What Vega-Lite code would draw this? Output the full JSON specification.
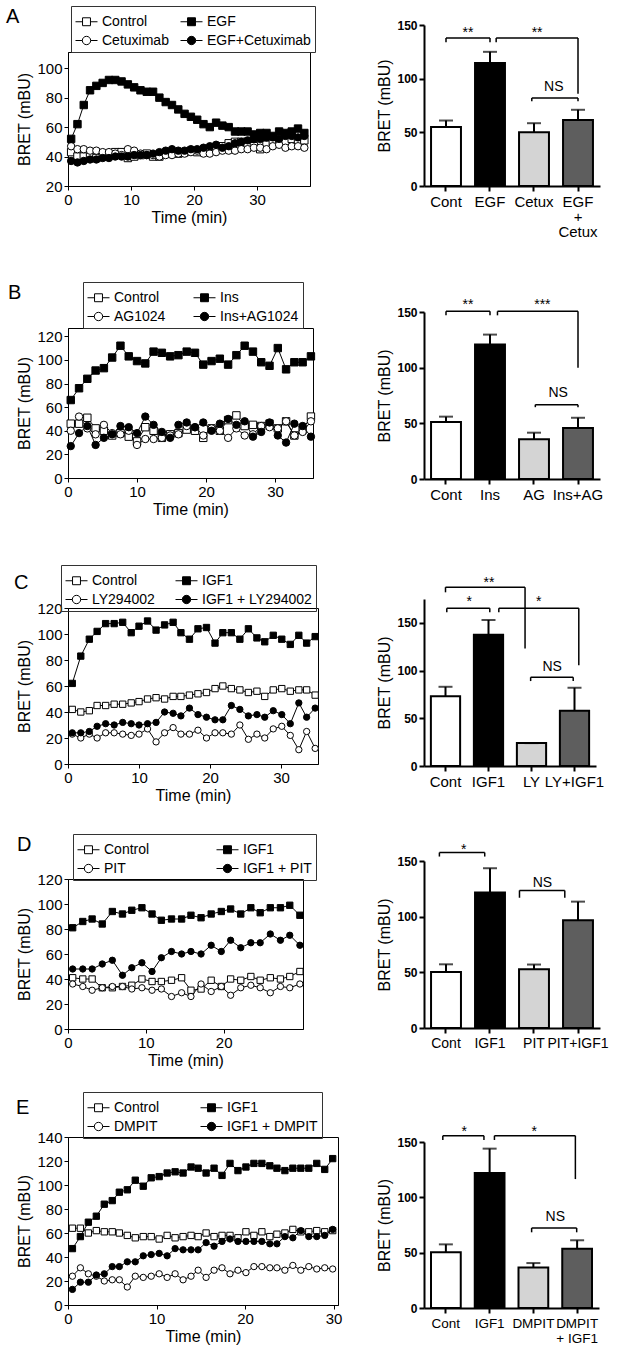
{
"$schema":"https://vega.github.io/schema/vega-lite/v6.json",
"background":"white",
"padding":5,
"datasets":{
"lA":[
{"s":"Control","t":0.5,"v":43},{"s":"Control","t":1.5,"v":40},{"s":"Control","t":2.5,"v":40},{"s":"Control","t":3.5,"v":41},{"s":"Control","t":4.5,"v":39},{"s":"Control","t":5.5,"v":40},{"s":"Control","t":6.5,"v":41},{"s":"Control","t":7.5,"v":43},{"s":"Control","t":8.5,"v":43},{"s":"Control","t":9.5,"v":39},{"s":"Control","t":10.5,"v":40},{"s":"Control","t":11.5,"v":41},{"s":"Control","t":12.5,"v":42},{"s":"Control","t":13.5,"v":40},{"s":"Control","t":14.5,"v":40},{"s":"Control","t":15.5,"v":42},{"s":"Control","t":16.5,"v":43},{"s":"Control","t":17.5,"v":42},{"s":"Control","t":18.5,"v":43},{"s":"Control","t":19.5,"v":44},{"s":"Control","t":20.5,"v":43},{"s":"Control","t":21.5,"v":44},{"s":"Control","t":22.5,"v":44},{"s":"Control","t":23.5,"v":46},{"s":"Control","t":24.5,"v":47},{"s":"Control","t":25.5,"v":49},{"s":"Control","t":26.5,"v":50},{"s":"Control","t":27.5,"v":50},{"s":"Control","t":28.5,"v":48},{"s":"Control","t":29.5,"v":47},{"s":"Control","t":30.5,"v":45},{"s":"Control","t":31.5,"v":48},{"s":"Control","t":32.5,"v":50},{"s":"Control","t":33.5,"v":49},{"s":"Control","t":34.5,"v":50},{"s":"Control","t":35.5,"v":52},{"s":"Control","t":36.5,"v":50},{"s":"Control","t":37.5,"v":51},
{"s":"Cetuximab","t":0.5,"v":47},{"s":"Cetuximab","t":1.5,"v":45},{"s":"Cetuximab","t":2.5,"v":45},{"s":"Cetuximab","t":3.5,"v":44},{"s":"Cetuximab","t":4.5,"v":44},{"s":"Cetuximab","t":5.5,"v":43},{"s":"Cetuximab","t":6.5,"v":43},{"s":"Cetuximab","t":7.5,"v":42},{"s":"Cetuximab","t":8.5,"v":41},{"s":"Cetuximab","t":9.5,"v":45},{"s":"Cetuximab","t":10.5,"v":44},{"s":"Cetuximab","t":11.5,"v":42},{"s":"Cetuximab","t":12.5,"v":41},{"s":"Cetuximab","t":13.5,"v":41},{"s":"Cetuximab","t":14.5,"v":40},{"s":"Cetuximab","t":15.5,"v":41},{"s":"Cetuximab","t":16.5,"v":41},{"s":"Cetuximab","t":17.5,"v":42},{"s":"Cetuximab","t":18.5,"v":42},{"s":"Cetuximab","t":19.5,"v":43},{"s":"Cetuximab","t":20.5,"v":44},{"s":"Cetuximab","t":21.5,"v":42},{"s":"Cetuximab","t":22.5,"v":42},{"s":"Cetuximab","t":23.5,"v":43},{"s":"Cetuximab","t":24.5,"v":44},{"s":"Cetuximab","t":25.5,"v":44},{"s":"Cetuximab","t":26.5,"v":44},{"s":"Cetuximab","t":27.5,"v":45},{"s":"Cetuximab","t":28.5,"v":45},{"s":"Cetuximab","t":29.5,"v":46},{"s":"Cetuximab","t":30.5,"v":46},{"s":"Cetuximab","t":31.5,"v":45},{"s":"Cetuximab","t":32.5,"v":47},{"s":"Cetuximab","t":33.5,"v":48},{"s":"Cetuximab","t":34.5,"v":46},{"s":"Cetuximab","t":35.5,"v":47},{"s":"Cetuximab","t":36.5,"v":47},{"s":"Cetuximab","t":37.5,"v":46},
{"s":"EGF","t":0.5,"v":52},{"s":"EGF","t":1.5,"v":62},{"s":"EGF","t":2.5,"v":75},{"s":"EGF","t":3.5,"v":85},{"s":"EGF","t":4.5,"v":88},{"s":"EGF","t":5.5,"v":90},{"s":"EGF","t":6.5,"v":92},{"s":"EGF","t":7.5,"v":92},{"s":"EGF","t":8.5,"v":91},{"s":"EGF","t":9.5,"v":89},{"s":"EGF","t":10.5,"v":87},{"s":"EGF","t":11.5,"v":85},{"s":"EGF","t":12.5,"v":84},{"s":"EGF","t":13.5,"v":84},{"s":"EGF","t":14.5,"v":80},{"s":"EGF","t":15.5,"v":77},{"s":"EGF","t":16.5,"v":75},{"s":"EGF","t":17.5,"v":72},{"s":"EGF","t":18.5,"v":69},{"s":"EGF","t":19.5,"v":67},{"s":"EGF","t":20.5,"v":65},{"s":"EGF","t":21.5,"v":62},{"s":"EGF","t":22.5,"v":60},{"s":"EGF","t":23.5,"v":63},{"s":"EGF","t":24.5,"v":61},{"s":"EGF","t":25.5,"v":60},{"s":"EGF","t":26.5,"v":57},{"s":"EGF","t":27.5,"v":57},{"s":"EGF","t":28.5,"v":57},{"s":"EGF","t":29.5,"v":55},{"s":"EGF","t":30.5,"v":56},{"s":"EGF","t":31.5,"v":56},{"s":"EGF","t":32.5,"v":54},{"s":"EGF","t":33.5,"v":57},{"s":"EGF","t":34.5,"v":56},{"s":"EGF","t":35.5,"v":57},{"s":"EGF","t":36.5,"v":59},{"s":"EGF","t":37.5,"v":56},
{"s":"EGF+Cetuximab","t":0.5,"v":37},{"s":"EGF+Cetuximab","t":1.5,"v":36},{"s":"EGF+Cetuximab","t":2.5,"v":37},{"s":"EGF+Cetuximab","t":3.5,"v":38},{"s":"EGF+Cetuximab","t":4.5,"v":38},{"s":"EGF+Cetuximab","t":5.5,"v":39},{"s":"EGF+Cetuximab","t":6.5,"v":39},{"s":"EGF+Cetuximab","t":7.5,"v":40},{"s":"EGF+Cetuximab","t":8.5,"v":40},{"s":"EGF+Cetuximab","t":9.5,"v":40},{"s":"EGF+Cetuximab","t":10.5,"v":41},{"s":"EGF+Cetuximab","t":11.5,"v":41},{"s":"EGF+Cetuximab","t":12.5,"v":41},{"s":"EGF+Cetuximab","t":13.5,"v":42},{"s":"EGF+Cetuximab","t":14.5,"v":43},{"s":"EGF+Cetuximab","t":15.5,"v":44},{"s":"EGF+Cetuximab","t":16.5,"v":45},{"s":"EGF+Cetuximab","t":17.5,"v":44},{"s":"EGF+Cetuximab","t":18.5,"v":44},{"s":"EGF+Cetuximab","t":19.5,"v":45},{"s":"EGF+Cetuximab","t":20.5,"v":45},{"s":"EGF+Cetuximab","t":21.5,"v":46},{"s":"EGF+Cetuximab","t":22.5,"v":47},{"s":"EGF+Cetuximab","t":23.5,"v":48},{"s":"EGF+Cetuximab","t":24.5,"v":46},{"s":"EGF+Cetuximab","t":25.5,"v":47},{"s":"EGF+Cetuximab","t":26.5,"v":49},{"s":"EGF+Cetuximab","t":27.5,"v":50},{"s":"EGF+Cetuximab","t":28.5,"v":51},{"s":"EGF+Cetuximab","t":29.5,"v":52},{"s":"EGF+Cetuximab","t":30.5,"v":52},{"s":"EGF+Cetuximab","t":31.5,"v":53},{"s":"EGF+Cetuximab","t":32.5,"v":53},{"s":"EGF+Cetuximab","t":33.5,"v":52},{"s":"EGF+Cetuximab","t":34.5,"v":54},{"s":"EGF+Cetuximab","t":35.5,"v":54},{"s":"EGF+Cetuximab","t":36.5,"v":53},{"s":"EGF+Cetuximab","t":37.5,"v":54}
],
"lB":[
{"s":"Control","t":0.4,"v":46},{"s":"Control","t":1.6,"v":46},{"s":"Control","t":2.8,"v":51},{"s":"Control","t":4,"v":42},{"s":"Control","t":5.2,"v":40},{"s":"Control","t":6.4,"v":36},{"s":"Control","t":7.6,"v":38},{"s":"Control","t":8.8,"v":35},{"s":"Control","t":10,"v":31},{"s":"Control","t":11.2,"v":43},{"s":"Control","t":12.4,"v":40},{"s":"Control","t":13.6,"v":34},{"s":"Control","t":14.8,"v":37},{"s":"Control","t":16,"v":38},{"s":"Control","t":17.2,"v":41},{"s":"Control","t":18.4,"v":40},{"s":"Control","t":19.6,"v":34},{"s":"Control","t":20.8,"v":42},{"s":"Control","t":22,"v":40},{"s":"Control","t":23.2,"v":49},{"s":"Control","t":24.4,"v":53},{"s":"Control","t":25.6,"v":44},{"s":"Control","t":26.8,"v":45},{"s":"Control","t":28,"v":44},{"s":"Control","t":29.2,"v":46},{"s":"Control","t":30.4,"v":42},{"s":"Control","t":31.6,"v":48},{"s":"Control","t":32.8,"v":36},{"s":"Control","t":34,"v":41},{"s":"Control","t":35.2,"v":52},
{"s":"AG1024","t":0.4,"v":40},{"s":"AG1024","t":1.6,"v":52},{"s":"AG1024","t":2.8,"v":42},{"s":"AG1024","t":4,"v":37},{"s":"AG1024","t":5.2,"v":45},{"s":"AG1024","t":6.4,"v":38},{"s":"AG1024","t":7.6,"v":37},{"s":"AG1024","t":8.8,"v":40},{"s":"AG1024","t":10,"v":28},{"s":"AG1024","t":11.2,"v":33},{"s":"AG1024","t":12.4,"v":33},{"s":"AG1024","t":13.6,"v":34},{"s":"AG1024","t":14.8,"v":36},{"s":"AG1024","t":16,"v":37},{"s":"AG1024","t":17.2,"v":44},{"s":"AG1024","t":18.4,"v":43},{"s":"AG1024","t":19.6,"v":36},{"s":"AG1024","t":20.8,"v":42},{"s":"AG1024","t":22,"v":40},{"s":"AG1024","t":23.2,"v":34},{"s":"AG1024","t":24.4,"v":42},{"s":"AG1024","t":25.6,"v":36},{"s":"AG1024","t":26.8,"v":37},{"s":"AG1024","t":28,"v":44},{"s":"AG1024","t":29.2,"v":43},{"s":"AG1024","t":30.4,"v":42},{"s":"AG1024","t":31.6,"v":48},{"s":"AG1024","t":32.8,"v":36},{"s":"AG1024","t":34,"v":39},{"s":"AG1024","t":35.2,"v":48},
{"s":"Ins","t":0.4,"v":66},{"s":"Ins","t":1.6,"v":76},{"s":"Ins","t":2.8,"v":84},{"s":"Ins","t":4,"v":91},{"s":"Ins","t":5.2,"v":93},{"s":"Ins","t":6.4,"v":102},{"s":"Ins","t":7.6,"v":112},{"s":"Ins","t":8.8,"v":103},{"s":"Ins","t":10,"v":99},{"s":"Ins","t":11.2,"v":97},{"s":"Ins","t":12.4,"v":107},{"s":"Ins","t":13.6,"v":106},{"s":"Ins","t":14.8,"v":103},{"s":"Ins","t":16,"v":104},{"s":"Ins","t":17.2,"v":107},{"s":"Ins","t":18.4,"v":106},{"s":"Ins","t":19.6,"v":96},{"s":"Ins","t":20.8,"v":99},{"s":"Ins","t":22,"v":101},{"s":"Ins","t":23.2,"v":96},{"s":"Ins","t":24.4,"v":104},{"s":"Ins","t":25.6,"v":112},{"s":"Ins","t":26.8,"v":107},{"s":"Ins","t":28,"v":98},{"s":"Ins","t":29.2,"v":95},{"s":"Ins","t":30.4,"v":110},{"s":"Ins","t":31.6,"v":92},{"s":"Ins","t":32.8,"v":98},{"s":"Ins","t":34,"v":98},{"s":"Ins","t":35.2,"v":103},
{"s":"Ins+AG1024","t":0.4,"v":27},{"s":"Ins+AG1024","t":1.6,"v":38},{"s":"Ins+AG1024","t":2.8,"v":44},{"s":"Ins+AG1024","t":4,"v":28},{"s":"Ins+AG1024","t":5.2,"v":34},{"s":"Ins+AG1024","t":6.4,"v":37},{"s":"Ins+AG1024","t":7.6,"v":44},{"s":"Ins+AG1024","t":8.8,"v":43},{"s":"Ins+AG1024","t":10,"v":38},{"s":"Ins+AG1024","t":11.2,"v":52},{"s":"Ins+AG1024","t":12.4,"v":45},{"s":"Ins+AG1024","t":13.6,"v":39},{"s":"Ins+AG1024","t":14.8,"v":34},{"s":"Ins+AG1024","t":16,"v":45},{"s":"Ins+AG1024","t":17.2,"v":47},{"s":"Ins+AG1024","t":18.4,"v":43},{"s":"Ins+AG1024","t":19.6,"v":47},{"s":"Ins+AG1024","t":20.8,"v":40},{"s":"Ins+AG1024","t":22,"v":46},{"s":"Ins+AG1024","t":23.2,"v":50},{"s":"Ins+AG1024","t":24.4,"v":45},{"s":"Ins+AG1024","t":25.6,"v":48},{"s":"Ins+AG1024","t":26.8,"v":35},{"s":"Ins+AG1024","t":28,"v":39},{"s":"Ins+AG1024","t":29.2,"v":47},{"s":"Ins+AG1024","t":30.4,"v":36},{"s":"Ins+AG1024","t":31.6,"v":30},{"s":"Ins+AG1024","t":32.8,"v":46},{"s":"Ins+AG1024","t":34,"v":44},{"s":"Ins+AG1024","t":35.2,"v":35}
],
"lC":[
{"s":"Control","t":0.6,"v":42},{"s":"Control","t":1.8,"v":40},{"s":"Control","t":3,"v":41},{"s":"Control","t":4.1,"v":45},{"s":"Control","t":5.3,"v":45},{"s":"Control","t":6.5,"v":46},{"s":"Control","t":7.7,"v":46},{"s":"Control","t":8.9,"v":47},{"s":"Control","t":10,"v":48},{"s":"Control","t":11.2,"v":50},{"s":"Control","t":12.4,"v":51},{"s":"Control","t":13.6,"v":50},{"s":"Control","t":14.8,"v":52},{"s":"Control","t":15.9,"v":52},{"s":"Control","t":17.1,"v":53},{"s":"Control","t":18.3,"v":54},{"s":"Control","t":19.5,"v":55},{"s":"Control","t":20.7,"v":58},{"s":"Control","t":21.8,"v":60},{"s":"Control","t":23,"v":58},{"s":"Control","t":24.2,"v":57},{"s":"Control","t":25.4,"v":55},{"s":"Control","t":26.6,"v":56},{"s":"Control","t":27.7,"v":52},{"s":"Control","t":28.9,"v":57},{"s":"Control","t":30.1,"v":58},{"s":"Control","t":31.3,"v":56},{"s":"Control","t":32.5,"v":57},{"s":"Control","t":33.6,"v":57},{"s":"Control","t":34.8,"v":53},
{"s":"LY294002","t":0.6,"v":23},{"s":"LY294002","t":1.8,"v":20},{"s":"LY294002","t":3,"v":23},{"s":"LY294002","t":4.1,"v":20},{"s":"LY294002","t":5.3,"v":24},{"s":"LY294002","t":6.5,"v":24},{"s":"LY294002","t":7.7,"v":23},{"s":"LY294002","t":8.9,"v":22},{"s":"LY294002","t":10,"v":23},{"s":"LY294002","t":11.2,"v":27},{"s":"LY294002","t":12.4,"v":17},{"s":"LY294002","t":13.6,"v":24},{"s":"LY294002","t":14.8,"v":28},{"s":"LY294002","t":15.9,"v":23},{"s":"LY294002","t":17.1,"v":23},{"s":"LY294002","t":18.3,"v":26},{"s":"LY294002","t":19.5,"v":20},{"s":"LY294002","t":20.7,"v":24},{"s":"LY294002","t":21.8,"v":24},{"s":"LY294002","t":23,"v":23},{"s":"LY294002","t":24.2,"v":30},{"s":"LY294002","t":25.4,"v":19},{"s":"LY294002","t":26.6,"v":23},{"s":"LY294002","t":27.7,"v":20},{"s":"LY294002","t":28.9,"v":27},{"s":"LY294002","t":30.1,"v":29},{"s":"LY294002","t":31.3,"v":22},{"s":"LY294002","t":32.5,"v":11},{"s":"LY294002","t":33.6,"v":25},{"s":"LY294002","t":34.8,"v":12},
{"s":"IGF1","t":0.6,"v":62},{"s":"IGF1","t":1.8,"v":83},{"s":"IGF1","t":3,"v":96},{"s":"IGF1","t":4.1,"v":102},{"s":"IGF1","t":5.3,"v":108},{"s":"IGF1","t":6.5,"v":108},{"s":"IGF1","t":7.7,"v":109},{"s":"IGF1","t":8.9,"v":101},{"s":"IGF1","t":10,"v":106},{"s":"IGF1","t":11.2,"v":110},{"s":"IGF1","t":12.4,"v":103},{"s":"IGF1","t":13.6,"v":107},{"s":"IGF1","t":14.8,"v":109},{"s":"IGF1","t":15.9,"v":101},{"s":"IGF1","t":17.1,"v":96},{"s":"IGF1","t":18.3,"v":104},{"s":"IGF1","t":19.5,"v":105},{"s":"IGF1","t":20.7,"v":93},{"s":"IGF1","t":21.8,"v":101},{"s":"IGF1","t":23,"v":101},{"s":"IGF1","t":24.2,"v":96},{"s":"IGF1","t":25.4,"v":104},{"s":"IGF1","t":26.6,"v":97},{"s":"IGF1","t":27.7,"v":94},{"s":"IGF1","t":28.9,"v":99},{"s":"IGF1","t":30.1,"v":96},{"s":"IGF1","t":31.3,"v":92},{"s":"IGF1","t":32.5,"v":99},{"s":"IGF1","t":33.6,"v":93},{"s":"IGF1","t":34.8,"v":98},
{"s":"IGF1 + LY294002","t":0.6,"v":24},{"s":"IGF1 + LY294002","t":1.8,"v":24},{"s":"IGF1 + LY294002","t":3,"v":25},{"s":"IGF1 + LY294002","t":4.1,"v":29},{"s":"IGF1 + LY294002","t":5.3,"v":31},{"s":"IGF1 + LY294002","t":6.5,"v":30},{"s":"IGF1 + LY294002","t":7.7,"v":32},{"s":"IGF1 + LY294002","t":8.9,"v":31},{"s":"IGF1 + LY294002","t":10,"v":30},{"s":"IGF1 + LY294002","t":11.2,"v":31},{"s":"IGF1 + LY294002","t":12.4,"v":32},{"s":"IGF1 + LY294002","t":13.6,"v":40},{"s":"IGF1 + LY294002","t":14.8,"v":39},{"s":"IGF1 + LY294002","t":15.9,"v":37},{"s":"IGF1 + LY294002","t":17.1,"v":43},{"s":"IGF1 + LY294002","t":18.3,"v":38},{"s":"IGF1 + LY294002","t":19.5,"v":36},{"s":"IGF1 + LY294002","t":20.7,"v":34},{"s":"IGF1 + LY294002","t":21.8,"v":34},{"s":"IGF1 + LY294002","t":23,"v":45},{"s":"IGF1 + LY294002","t":24.2,"v":42},{"s":"IGF1 + LY294002","t":25.4,"v":37},{"s":"IGF1 + LY294002","t":26.6,"v":38},{"s":"IGF1 + LY294002","t":27.7,"v":36},{"s":"IGF1 + LY294002","t":28.9,"v":41},{"s":"IGF1 + LY294002","t":30.1,"v":38},{"s":"IGF1 + LY294002","t":31.3,"v":31},{"s":"IGF1 + LY294002","t":32.5,"v":47},{"s":"IGF1 + LY294002","t":33.6,"v":36},{"s":"IGF1 + LY294002","t":34.8,"v":43}
],
"lD":[
{"s":"Control","t":0.6,"v":41},{"s":"Control","t":1.9,"v":40},{"s":"Control","t":3.1,"v":40},{"s":"Control","t":4.4,"v":33},{"s":"Control","t":5.7,"v":33},{"s":"Control","t":7,"v":34},{"s":"Control","t":8.2,"v":35},{"s":"Control","t":9.5,"v":40},{"s":"Control","t":10.8,"v":38},{"s":"Control","t":12,"v":38},{"s":"Control","t":13.3,"v":39},{"s":"Control","t":14.6,"v":41},{"s":"Control","t":15.8,"v":31},{"s":"Control","t":17.1,"v":32},{"s":"Control","t":18.4,"v":39},{"s":"Control","t":19.7,"v":34},{"s":"Control","t":20.9,"v":40},{"s":"Control","t":22.2,"v":39},{"s":"Control","t":23.5,"v":42},{"s":"Control","t":24.7,"v":39},{"s":"Control","t":26,"v":41},{"s":"Control","t":27.3,"v":40},{"s":"Control","t":28.5,"v":42},{"s":"Control","t":29.8,"v":46},
{"s":"PIT","t":0.6,"v":36},{"s":"PIT","t":1.9,"v":34},{"s":"PIT","t":3.1,"v":31},{"s":"PIT","t":4.4,"v":33},{"s":"PIT","t":5.7,"v":34},{"s":"PIT","t":7,"v":34},{"s":"PIT","t":8.2,"v":32},{"s":"PIT","t":9.5,"v":33},{"s":"PIT","t":10.8,"v":31},{"s":"PIT","t":12,"v":32},{"s":"PIT","t":13.3,"v":26},{"s":"PIT","t":14.6,"v":29},{"s":"PIT","t":15.8,"v":26},{"s":"PIT","t":17.1,"v":36},{"s":"PIT","t":18.4,"v":30},{"s":"PIT","t":19.7,"v":34},{"s":"PIT","t":20.9,"v":27},{"s":"PIT","t":22.2,"v":33},{"s":"PIT","t":23.5,"v":35},{"s":"PIT","t":24.7,"v":33},{"s":"PIT","t":26,"v":29},{"s":"PIT","t":27.3,"v":34},{"s":"PIT","t":28.5,"v":33},{"s":"PIT","t":29.8,"v":36},
{"s":"IGF1","t":0.6,"v":81},{"s":"IGF1","t":1.9,"v":86},{"s":"IGF1","t":3.1,"v":88},{"s":"IGF1","t":4.4,"v":84},{"s":"IGF1","t":5.7,"v":94},{"s":"IGF1","t":7,"v":92},{"s":"IGF1","t":8.2,"v":95},{"s":"IGF1","t":9.5,"v":97},{"s":"IGF1","t":10.8,"v":92},{"s":"IGF1","t":12,"v":87},{"s":"IGF1","t":13.3,"v":88},{"s":"IGF1","t":14.6,"v":88},{"s":"IGF1","t":15.8,"v":91},{"s":"IGF1","t":17.1,"v":89},{"s":"IGF1","t":18.4,"v":92},{"s":"IGF1","t":19.7,"v":94},{"s":"IGF1","t":20.9,"v":96},{"s":"IGF1","t":22.2,"v":92},{"s":"IGF1","t":23.5,"v":97},{"s":"IGF1","t":24.7,"v":93},{"s":"IGF1","t":26,"v":97},{"s":"IGF1","t":27.3,"v":97},{"s":"IGF1","t":28.5,"v":99},{"s":"IGF1","t":29.8,"v":91},
{"s":"IGF1 + PIT","t":0.6,"v":48},{"s":"IGF1 + PIT","t":1.9,"v":48},{"s":"IGF1 + PIT","t":3.1,"v":48},{"s":"IGF1 + PIT","t":4.4,"v":52},{"s":"IGF1 + PIT","t":5.7,"v":55},{"s":"IGF1 + PIT","t":7,"v":43},{"s":"IGF1 + PIT","t":8.2,"v":49},{"s":"IGF1 + PIT","t":9.5,"v":53},{"s":"IGF1 + PIT","t":10.8,"v":46},{"s":"IGF1 + PIT","t":12,"v":57},{"s":"IGF1 + PIT","t":13.3,"v":62},{"s":"IGF1 + PIT","t":14.6,"v":60},{"s":"IGF1 + PIT","t":15.8,"v":62},{"s":"IGF1 + PIT","t":17.1,"v":60},{"s":"IGF1 + PIT","t":18.4,"v":67},{"s":"IGF1 + PIT","t":19.7,"v":62},{"s":"IGF1 + PIT","t":20.9,"v":71},{"s":"IGF1 + PIT","t":22.2,"v":65},{"s":"IGF1 + PIT","t":23.5,"v":69},{"s":"IGF1 + PIT","t":24.7,"v":69},{"s":"IGF1 + PIT","t":26,"v":76},{"s":"IGF1 + PIT","t":27.3,"v":71},{"s":"IGF1 + PIT","t":28.5,"v":75},{"s":"IGF1 + PIT","t":29.8,"v":67}
],
"lE":[
{"s":"Control","t":0.5,"v":64},{"s":"Control","t":1.4,"v":64},{"s":"Control","t":2.3,"v":60},{"s":"Control","t":3.2,"v":62},{"s":"Control","t":4.1,"v":61},{"s":"Control","t":5,"v":61},{"s":"Control","t":5.8,"v":60},{"s":"Control","t":6.7,"v":58},{"s":"Control","t":7.6,"v":56},{"s":"Control","t":8.5,"v":57},{"s":"Control","t":9.4,"v":57},{"s":"Control","t":10.3,"v":55},{"s":"Control","t":11.2,"v":58},{"s":"Control","t":12.1,"v":56},{"s":"Control","t":13,"v":57},{"s":"Control","t":13.9,"v":58},{"s":"Control","t":14.7,"v":57},{"s":"Control","t":15.6,"v":60},{"s":"Control","t":16.5,"v":57},{"s":"Control","t":17.4,"v":58},{"s":"Control","t":18.3,"v":58},{"s":"Control","t":19.2,"v":56},{"s":"Control","t":20.1,"v":61},{"s":"Control","t":21,"v":58},{"s":"Control","t":21.9,"v":61},{"s":"Control","t":22.8,"v":57},{"s":"Control","t":23.6,"v":59},{"s":"Control","t":24.5,"v":60},{"s":"Control","t":25.4,"v":63},{"s":"Control","t":26.3,"v":61},{"s":"Control","t":27.2,"v":61},{"s":"Control","t":28.1,"v":62},{"s":"Control","t":29,"v":61},{"s":"Control","t":29.9,"v":62},
{"s":"DMPIT","t":0.5,"v":24},{"s":"DMPIT","t":1.4,"v":31},{"s":"DMPIT","t":2.3,"v":26},{"s":"DMPIT","t":3.2,"v":24},{"s":"DMPIT","t":4.1,"v":20},{"s":"DMPIT","t":5,"v":21},{"s":"DMPIT","t":5.8,"v":21},{"s":"DMPIT","t":6.7,"v":15},{"s":"DMPIT","t":7.6,"v":24},{"s":"DMPIT","t":8.5,"v":23},{"s":"DMPIT","t":9.4,"v":24},{"s":"DMPIT","t":10.3,"v":26},{"s":"DMPIT","t":11.2,"v":23},{"s":"DMPIT","t":12.1,"v":26},{"s":"DMPIT","t":13,"v":21},{"s":"DMPIT","t":13.9,"v":24},{"s":"DMPIT","t":14.7,"v":29},{"s":"DMPIT","t":15.6,"v":23},{"s":"DMPIT","t":16.5,"v":29},{"s":"DMPIT","t":17.4,"v":31},{"s":"DMPIT","t":18.3,"v":26},{"s":"DMPIT","t":19.2,"v":29},{"s":"DMPIT","t":20.1,"v":27},{"s":"DMPIT","t":21,"v":32},{"s":"DMPIT","t":21.9,"v":32},{"s":"DMPIT","t":22.8,"v":31},{"s":"DMPIT","t":23.6,"v":31},{"s":"DMPIT","t":24.5,"v":29},{"s":"DMPIT","t":25.4,"v":33},{"s":"DMPIT","t":26.3,"v":29},{"s":"DMPIT","t":27.2,"v":32},{"s":"DMPIT","t":28.1,"v":30},{"s":"DMPIT","t":29,"v":31},{"s":"DMPIT","t":29.9,"v":30},
{"s":"IGF1","t":0.5,"v":47},{"s":"IGF1","t":1.4,"v":57},{"s":"IGF1","t":2.3,"v":69},{"s":"IGF1","t":3.2,"v":74},{"s":"IGF1","t":4.1,"v":84},{"s":"IGF1","t":5,"v":87},{"s":"IGF1","t":5.8,"v":94},{"s":"IGF1","t":6.7,"v":96},{"s":"IGF1","t":7.6,"v":104},{"s":"IGF1","t":8.5,"v":99},{"s":"IGF1","t":9.4,"v":106},{"s":"IGF1","t":10.3,"v":107},{"s":"IGF1","t":11.2,"v":110},{"s":"IGF1","t":12.1,"v":111},{"s":"IGF1","t":13,"v":110},{"s":"IGF1","t":13.9,"v":115},{"s":"IGF1","t":14.7,"v":114},{"s":"IGF1","t":15.6,"v":110},{"s":"IGF1","t":16.5,"v":114},{"s":"IGF1","t":17.4,"v":108},{"s":"IGF1","t":18.3,"v":118},{"s":"IGF1","t":19.2,"v":112},{"s":"IGF1","t":20.1,"v":115},{"s":"IGF1","t":21,"v":118},{"s":"IGF1","t":21.9,"v":118},{"s":"IGF1","t":22.8,"v":116},{"s":"IGF1","t":23.6,"v":114},{"s":"IGF1","t":24.5,"v":112},{"s":"IGF1","t":25.4,"v":114},{"s":"IGF1","t":26.3,"v":114},{"s":"IGF1","t":27.2,"v":114},{"s":"IGF1","t":28.1,"v":118},{"s":"IGF1","t":29,"v":113},{"s":"IGF1","t":29.9,"v":122},
{"s":"IGF1 + DMPIT","t":0.5,"v":13},{"s":"IGF1 + DMPIT","t":1.4,"v":19},{"s":"IGF1 + DMPIT","t":2.3,"v":19},{"s":"IGF1 + DMPIT","t":3.2,"v":25},{"s":"IGF1 + DMPIT","t":4.1,"v":26},{"s":"IGF1 + DMPIT","t":5,"v":32},{"s":"IGF1 + DMPIT","t":5.8,"v":32},{"s":"IGF1 + DMPIT","t":6.7,"v":36},{"s":"IGF1 + DMPIT","t":7.6,"v":36},{"s":"IGF1 + DMPIT","t":8.5,"v":41},{"s":"IGF1 + DMPIT","t":9.4,"v":42},{"s":"IGF1 + DMPIT","t":10.3,"v":43},{"s":"IGF1 + DMPIT","t":11.2,"v":41},{"s":"IGF1 + DMPIT","t":12.1,"v":47},{"s":"IGF1 + DMPIT","t":13,"v":46},{"s":"IGF1 + DMPIT","t":13.9,"v":46},{"s":"IGF1 + DMPIT","t":14.7,"v":46},{"s":"IGF1 + DMPIT","t":15.6,"v":52},{"s":"IGF1 + DMPIT","t":16.5,"v":49},{"s":"IGF1 + DMPIT","t":17.4,"v":53},{"s":"IGF1 + DMPIT","t":18.3,"v":55},{"s":"IGF1 + DMPIT","t":19.2,"v":53},{"s":"IGF1 + DMPIT","t":20.1,"v":53},{"s":"IGF1 + DMPIT","t":21,"v":53},{"s":"IGF1 + DMPIT","t":21.9,"v":53},{"s":"IGF1 + DMPIT","t":22.8,"v":51},{"s":"IGF1 + DMPIT","t":23.6,"v":51},{"s":"IGF1 + DMPIT","t":24.5,"v":57},{"s":"IGF1 + DMPIT","t":25.4,"v":56},{"s":"IGF1 + DMPIT","t":26.3,"v":62},{"s":"IGF1 + DMPIT","t":27.2,"v":57},{"s":"IGF1 + DMPIT","t":28.1,"v":57},{"s":"IGF1 + DMPIT","t":29,"v":58},{"s":"IGF1 + DMPIT","t":29.9,"v":63}
],
"bA":[{"g":"Cont","m":55,"e":61},{"g":"EGF","m":114.5,"e":125},{"g":"Cetux","m":50,"e":58.5},{"g":"EGF+Cetux","m":61.5,"e":71}],
"bB":[{"g":"Cont","m":51.2,"e":56},{"g":"Ins","m":120.7,"e":129.7},{"g":"AG","m":35.6,"e":41.6},{"g":"Ins+AG","m":45.8,"e":55}],
"bC":[{"g":"Cont","m":73,"e":83},{"g":"IGF1","m":137.5,"e":153},{"g":"LY","m":24,"e":24},{"g":"LY+IGF1","m":58,"e":82}],
"bD":[{"g":"Cont","m":50.3,"e":57.2},{"g":"IGF1","m":121.6,"e":143.5},{"g":"PIT","m":52.7,"e":57},{"g":"PIT+IGF1","m":96.8,"e":113.5}],
"bE":[{"g":"Cont","m":50.3,"e":57.5},{"g":"IGF1","m":122,"e":144},{"g":"DMPIT","m":36.7,"e":40.6},{"g":"DMPIT+IGF1","m":53.6,"e":61.2}],
"kA":[{"x":0.5,"x2":1.5,"y":138,"y2":138},{"x":0.5,"x2":0.5,"y":138,"y2":134},{"x":1.5,"x2":1.5,"y":138,"y2":134},{"x":1.64,"x2":3.5,"y":138,"y2":138},{"x":1.64,"x2":1.64,"y":138,"y2":134},{"x":3.5,"x2":3.5,"y":138,"y2":86},{"x":2.45,"x2":3.5,"y":82,"y2":82},{"x":2.45,"x2":2.45,"y":82,"y2":79},{"x":3.5,"x2":3.5,"y":82,"y2":79}],
"kB":[{"x":0.5,"x2":1.5,"y":150.6,"y2":150.6},{"x":0.5,"x2":0.5,"y":150.6,"y2":147},{"x":1.5,"x2":1.5,"y":150.6,"y2":147},{"x":1.67,"x2":3.5,"y":150.6,"y2":150.6},{"x":1.67,"x2":1.67,"y":150.6,"y2":147},{"x":3.5,"x2":3.5,"y":150.6,"y2":100},{"x":2.53,"x2":3.5,"y":66.8,"y2":66.8},{"x":2.53,"x2":2.53,"y":66.8,"y2":64.5},{"x":3.5,"x2":3.5,"y":66.8,"y2":64.5}],
"kC":[{"x":0.5,"x2":2.35,"y":187.4,"y2":187.4},{"x":0.5,"x2":0.5,"y":187.4,"y2":182},{"x":2.35,"x2":2.35,"y":187.4,"y2":123},{"x":0.53,"x2":1.53,"y":165.4,"y2":165.4},{"x":0.53,"x2":0.53,"y":165.4,"y2":161},{"x":1.53,"x2":1.53,"y":165.4,"y2":161},{"x":1.74,"x2":3.6,"y":165.4,"y2":165.4},{"x":1.74,"x2":1.74,"y":165.4,"y2":161},{"x":3.6,"x2":3.6,"y":165.4,"y2":105.7},{"x":2.48,"x2":3.47,"y":93,"y2":93},{"x":2.48,"x2":2.48,"y":93,"y2":89},{"x":3.47,"x2":3.47,"y":93,"y2":89}],
"kD":[{"x":0.35,"x2":1.38,"y":157.6,"y2":157.6},{"x":0.35,"x2":0.35,"y":157.6,"y2":154},{"x":1.38,"x2":1.38,"y":157.6,"y2":154},{"x":2.17,"x2":3.2,"y":123.6,"y2":123.6},{"x":2.17,"x2":2.17,"y":123.6,"y2":117},{"x":3.2,"x2":3.2,"y":123.6,"y2":117}],
"kE":[{"x":0.43,"x2":1.37,"y":155.7,"y2":155.7},{"x":0.43,"x2":0.43,"y":155.7,"y2":151.8},{"x":1.37,"x2":1.37,"y":155.7,"y2":151.8},{"x":1.61,"x2":3.46,"y":155.7,"y2":155.7},{"x":1.61,"x2":1.61,"y":155.7,"y2":151.8},{"x":3.46,"x2":3.46,"y":155.7,"y2":116.5},{"x":2.46,"x2":3.49,"y":72.3,"y2":72.3},{"x":2.46,"x2":2.46,"y":72.3,"y2":68.4},{"x":3.49,"x2":3.49,"y":72.3,"y2":68.4}],
"nA":[{"x":1.0,"y":143,"txt":"**"},{"x":2.57,"y":143,"txt":"**"},{"x":2.95,"y":92,"txt":"NS"}],
"nB":[{"x":1.0,"y":156,"txt":"**"},{"x":2.69,"y":156,"txt":"***"},{"x":3.05,"y":77,"txt":"NS"}],
"nC":[{"x":1.51,"y":192,"txt":"**"},{"x":1.05,"y":172,"txt":"*"},{"x":2.67,"y":172,"txt":"*"},{"x":2.98,"y":104,"txt":"NS"}],
"nD":[{"x":0.9,"y":160,"txt":"*"},{"x":2.69,"y":130,"txt":"NS"}],
"nE":[{"x":0.92,"y":159,"txt":"*"},{"x":2.52,"y":159,"txt":"*"},{"x":3.0,"y":82,"txt":"NS"}]
},
"hconcat":[
{"vconcat":[
 {"width":1,"height":1,"data":{"values":[{"k":0}]},"mark":{"type":"text","text":" ","opacity":0}},
 {"vconcat":[
 {"width":242,"height":134,"view":{"stroke":"black","strokeWidth":1},
  "title":{"text":"A","anchor":"start","frame":"group","fontSize":20,"fontWeight":"normal","dx":-62,"offset":-37,"baseline":"alphabetic"},
  "data":{"name":"lA"},
  "encoding":{"x":{"field":"t","type":"quantitative","scale":{"domain":[0,38.4],"nice":false,"zero":false},"axis":{"title":"Time (min)","values":[0,10,20,30],"tickSize":4,"labelPadding":2,"titlePadding":2,"labelFlush":false}},
   "y":{"field":"v","type":"quantitative","scale":{"domain":[20,111],"nice":false,"zero":false},"axis":{"title":"BRET (mBU)","values":[20,40,60,80,100],"tickSize":4,"labelPadding":2,"titlePadding":4}}},
  "layer":[
   {"mark":{"type":"line","color":"black","strokeWidth":1},"encoding":{"detail":{"field":"s","type":"nominal"}}},
   {"mark":{"type":"point","filled":true,"stroke":"black","strokeWidth":1,"size":55,"opacity":1},
    "encoding":{"shape":{"field":"s","type":"nominal","scale":{"domain":["Control","Cetuximab","EGF","EGF+Cetuximab"],"range":["square","circle","square","circle"]},"legend":null},
     "fill":{"field":"s","type":"nominal","scale":{"domain":["Control","Cetuximab","EGF","EGF+Cetuximab"],"range":["white","white","black","black"]},"legend":null}}},
   {"mark":{"type":"point","filled":true,"strokeWidth":1,"size":55,"opacity":0},
    "encoding":{"shape":{"field":"s","type":"nominal","scale":{"domain":["Control","Cetuximab","EGF","EGF+Cetuximab"],"range":["M-1,0H-0.36M0.36,0H1M-0.36,-0.36H0.36V0.36H-0.36Z","M-1,0H-0.38M0.38,0H1M-0.38,0A0.38,0.38,0,1,0,0.38,0A0.38,0.38,0,1,0,-0.38,0Z","M-1,0H-0.36M0.36,0H1M-0.36,-0.36H0.36V0.36H-0.36Z","M-1,0H-0.38M0.38,0H1M-0.38,0A0.38,0.38,0,1,0,0.38,0A0.38,0.38,0,1,0,-0.38,0Z"]},
      "legend":{"title":null,"orient":"none","legendX":3,"legendY":-46,"columns":2,"columnPadding":9,"rowPadding":0,"padding":4,"strokeColor":"#333","symbolSize":484,"symbolStrokeWidth":1,"symbolOpacity":1,"labelFontSize":14,"labelOffset":4}},
     "fill":{"field":"s","type":"nominal","scale":{"domain":["Control","Cetuximab","EGF","EGF+Cetuximab"],"range":["white","white","black","black"]}},
     "stroke":{"field":"s","type":"nominal","scale":{"domain":["Control","Cetuximab","EGF","EGF+Cetuximab"],"range":["black","black","black","black"]}}}}
  ],
  "resolve":{"scale":{"shape":"independent","fill":"independent","stroke":"independent"}}},
 {"vconcat":[
  {"width":245,"height":150,"view":{"stroke":"black","strokeWidth":1},
   "title":{"text":"B","anchor":"start","frame":"group","fontSize":20,"fontWeight":"normal","dx":-60,"offset":-37,"baseline":"alphabetic"},
   "data":{"name":"lB"},
   "encoding":{"x":{"field":"t","type":"quantitative","scale":{"domain":[0,35.5],"nice":false,"zero":false},"axis":{"title":"Time (min)","values":[0,10,20,30],"tickSize":4,"labelPadding":2,"titlePadding":2,"labelFlush":false}},
    "y":{"field":"v","type":"quantitative","scale":{"domain":[0,127],"nice":false,"zero":false},"axis":{"title":"BRET (mBU)","values":[0,20,40,60,80,100,120],"tickSize":4,"labelPadding":2,"titlePadding":4}}},
   "layer":[
    {"mark":{"type":"line","color":"black","strokeWidth":1},"encoding":{"detail":{"field":"s","type":"nominal"}}},
    {"mark":{"type":"point","filled":true,"stroke":"black","strokeWidth":1,"size":55,"opacity":1},
     "encoding":{"shape":{"field":"s","type":"nominal","scale":{"domain":["Control","AG1024","Ins","Ins+AG1024"],"range":["square","circle","square","circle"]},"legend":null},
      "fill":{"field":"s","type":"nominal","scale":{"domain":["Control","AG1024","Ins","Ins+AG1024"],"range":["white","white","black","black"]},"legend":null}}},
    {"mark":{"type":"point","filled":true,"strokeWidth":1,"size":55,"opacity":0},
     "encoding":{"shape":{"field":"s","type":"nominal","scale":{"domain":["Control","AG1024","Ins","Ins+AG1024"],"range":["M-1,0H-0.36M0.36,0H1M-0.36,-0.36H0.36V0.36H-0.36Z","M-1,0H-0.38M0.38,0H1M-0.38,0A0.38,0.38,0,1,0,0.38,0A0.38,0.38,0,1,0,-0.38,0Z","M-1,0H-0.36M0.36,0H1M-0.36,-0.36H0.36V0.36H-0.36Z","M-1,0H-0.38M0.38,0H1M-0.38,0A0.38,0.38,0,1,0,0.38,0A0.38,0.38,0,1,0,-0.38,0Z"]},
       "legend":{"title":null,"orient":"none","legendX":15,"legendY":-46,"columns":2,"columnPadding":25,"rowPadding":0,"padding":4,"strokeColor":"#333","symbolSize":484,"symbolStrokeWidth":1,"symbolOpacity":1,"labelFontSize":14,"labelOffset":4}},
      "fill":{"field":"s","type":"nominal","scale":{"domain":["Control","AG1024","Ins","Ins+AG1024"],"range":["white","white","black","black"]}},
      "stroke":{"field":"s","type":"nominal","scale":{"domain":["Control","AG1024","Ins","Ins+AG1024"],"range":["black","black","black","black"]}}}}
   ],
   "resolve":{"scale":{"shape":"independent","fill":"independent","stroke":"independent"}}},
  {"vconcat":[
   {"width":250,"height":156,"view":{"stroke":"black","strokeWidth":1},
    "title":{"text":"C","anchor":"start","frame":"group","fontSize":20,"fontWeight":"normal","dx":-54,"offset":-44,"baseline":"alphabetic"},
    "data":{"name":"lC"},
    "encoding":{"x":{"field":"t","type":"quantitative","scale":{"domain":[0,35.2],"nice":false,"zero":false},"axis":{"title":"Time (min)","values":[0,10,20,30],"tickSize":4,"labelPadding":2,"titlePadding":2,"labelFlush":false}},
     "y":{"field":"v","type":"quantitative","scale":{"domain":[0,120],"nice":false,"zero":false},"axis":{"title":"BRET (mBU)","values":[0,20,40,60,80,100,120],"tickSize":4,"labelPadding":2,"titlePadding":4}}},
    "layer":[
     {"mark":{"type":"line","color":"black","strokeWidth":1},"encoding":{"detail":{"field":"s","type":"nominal"}}},
     {"mark":{"type":"point","filled":true,"stroke":"black","strokeWidth":1,"size":40,"opacity":1},
      "encoding":{"shape":{"field":"s","type":"nominal","scale":{"domain":["Control","LY294002","IGF1","IGF1 + LY294002"],"range":["square","circle","square","circle"]},"legend":null},
       "fill":{"field":"s","type":"nominal","scale":{"domain":["Control","LY294002","IGF1","IGF1 + LY294002"],"range":["white","white","black","black"]},"legend":null}}},
     {"mark":{"type":"point","filled":true,"strokeWidth":1,"size":40,"opacity":0},
      "encoding":{"shape":{"field":"s","type":"nominal","scale":{"domain":["Control","LY294002","IGF1","IGF1 + LY294002"],"range":["M-1,0H-0.36M0.36,0H1M-0.36,-0.36H0.36V0.36H-0.36Z","M-1,0H-0.38M0.38,0H1M-0.38,0A0.38,0.38,0,1,0,0.38,0A0.38,0.38,0,1,0,-0.38,0Z","M-1,0H-0.36M0.36,0H1M-0.36,-0.36H0.36V0.36H-0.36Z","M-1,0H-0.38M0.38,0H1M-0.38,0A0.38,0.38,0,1,0,0.38,0A0.38,0.38,0,1,0,-0.38,0Z"]},
        "legend":{"title":null,"orient":"none","legendX":-7,"legendY":-43,"columns":2,"columnPadding":18,"rowPadding":0,"padding":4,"strokeColor":"#333","symbolSize":484,"symbolStrokeWidth":1,"symbolOpacity":1,"labelFontSize":14,"labelOffset":4}},
       "fill":{"field":"s","type":"nominal","scale":{"domain":["Control","LY294002","IGF1","IGF1 + LY294002"],"range":["white","white","black","black"]}},
       "stroke":{"field":"s","type":"nominal","scale":{"domain":["Control","LY294002","IGF1","IGF1 + LY294002"],"range":["black","black","black","black"]}}}}
    ],
    "resolve":{"scale":{"shape":"independent","fill":"independent","stroke":"independent"}}},
   {"vconcat":[
    {"width":235,"height":150,"view":{"stroke":"black","strokeWidth":1},
     "title":{"text":"D","anchor":"start","frame":"group","fontSize":20,"fontWeight":"normal","dx":-51,"offset":-37,"baseline":"alphabetic"},
     "data":{"name":"lD"},
     "encoding":{"x":{"field":"t","type":"quantitative","scale":{"domain":[0,30.2],"nice":false,"zero":false},"axis":{"title":"Time (min)","values":[0,10,20],"tickSize":4,"labelPadding":2,"titlePadding":2,"labelFlush":false}},
      "y":{"field":"v","type":"quantitative","scale":{"domain":[0,120],"nice":false,"zero":false},"axis":{"title":"BRET (mBU)","values":[0,20,40,60,80,100,120],"tickSize":4,"labelPadding":2,"titlePadding":4}}},
     "layer":[
      {"mark":{"type":"line","color":"black","strokeWidth":1},"encoding":{"detail":{"field":"s","type":"nominal"}}},
      {"mark":{"type":"point","filled":true,"stroke":"black","strokeWidth":1,"size":40,"opacity":1},
       "encoding":{"shape":{"field":"s","type":"nominal","scale":{"domain":["Control","PIT","IGF1","IGF1 + PIT"],"range":["square","circle","square","circle"]},"legend":null},
        "fill":{"field":"s","type":"nominal","scale":{"domain":["Control","PIT","IGF1","IGF1 + PIT"],"range":["white","white","black","black"]},"legend":null}}},
      {"mark":{"type":"point","filled":true,"strokeWidth":1,"size":40,"opacity":0},
       "encoding":{"shape":{"field":"s","type":"nominal","scale":{"domain":["Control","PIT","IGF1","IGF1 + PIT"],"range":["M-1,0H-0.36M0.36,0H1M-0.36,-0.36H0.36V0.36H-0.36Z","M-1,0H-0.38M0.38,0H1M-0.38,0A0.38,0.38,0,1,0,0.38,0A0.38,0.38,0,1,0,-0.38,0Z","M-1,0H-0.36M0.36,0H1M-0.36,-0.36H0.36V0.36H-0.36Z","M-1,0H-0.38M0.38,0H1M-0.38,0A0.38,0.38,0,1,0,0.38,0A0.38,0.38,0,1,0,-0.38,0Z"]},
         "legend":{"title":null,"orient":"none","legendX":5,"legendY":-45,"columns":2,"columnPadding":64,"rowPadding":0,"padding":4,"strokeColor":"#333","symbolSize":484,"symbolStrokeWidth":1,"symbolOpacity":1,"labelFontSize":14,"labelOffset":4}},
        "fill":{"field":"s","type":"nominal","scale":{"domain":["Control","PIT","IGF1","IGF1 + PIT"],"range":["white","white","black","black"]}},
        "stroke":{"field":"s","type":"nominal","scale":{"domain":["Control","PIT","IGF1","IGF1 + PIT"],"range":["black","black","black","black"]}}}}
     ],
     "resolve":{"scale":{"shape":"independent","fill":"independent","stroke":"independent"}}},
    {"width":270,"height":168,"view":{"stroke":"black","strokeWidth":1},
     "title":{"text":"E","anchor":"start","frame":"group","fontSize":20,"fontWeight":"normal","dx":-52,"offset":-42,"baseline":"alphabetic"},
     "data":{"name":"lE"},
     "encoding":{"x":{"field":"t","type":"quantitative","scale":{"domain":[0,30.5],"nice":false,"zero":false},"axis":{"title":"Time (min)","values":[0,10,20,30],"tickSize":4,"labelPadding":2,"titlePadding":2,"labelFlush":false}},
      "y":{"field":"v","type":"quantitative","scale":{"domain":[0,140],"nice":false,"zero":false},"axis":{"title":"BRET (mBU)","values":[0,20,40,60,80,100,120,140],"tickSize":4,"labelPadding":2,"titlePadding":4}}},
     "layer":[
      {"mark":{"type":"line","color":"black","strokeWidth":1},"encoding":{"detail":{"field":"s","type":"nominal"}}},
      {"mark":{"type":"point","filled":true,"stroke":"black","strokeWidth":1,"size":40,"opacity":1},
       "encoding":{"shape":{"field":"s","type":"nominal","scale":{"domain":["Control","DMPIT","IGF1","IGF1 + DMPIT"],"range":["square","circle","square","circle"]},"legend":null},
        "fill":{"field":"s","type":"nominal","scale":{"domain":["Control","DMPIT","IGF1","IGF1 + DMPIT"],"range":["white","white","black","black"]},"legend":null}}},
      {"mark":{"type":"point","filled":true,"strokeWidth":1,"size":40,"opacity":0},
       "encoding":{"shape":{"field":"s","type":"nominal","scale":{"domain":["Control","DMPIT","IGF1","IGF1 + DMPIT"],"range":["M-1,0H-0.36M0.36,0H1M-0.36,-0.36H0.36V0.36H-0.36Z","M-1,0H-0.38M0.38,0H1M-0.38,0A0.38,0.38,0,1,0,0.38,0A0.38,0.38,0,1,0,-0.38,0Z","M-1,0H-0.36M0.36,0H1M-0.36,-0.36H0.36V0.36H-0.36Z","M-1,0H-0.38M0.38,0H1M-0.38,0A0.38,0.38,0,1,0,0.38,0A0.38,0.38,0,1,0,-0.38,0Z"]},
         "legend":{"title":null,"orient":"none","legendX":15,"legendY":-45,"columns":2,"columnPadding":38,"rowPadding":0,"padding":4,"strokeColor":"#333","symbolSize":484,"symbolStrokeWidth":1,"symbolOpacity":1,"labelFontSize":14,"labelOffset":4}},
        "fill":{"field":"s","type":"nominal","scale":{"domain":["Control","DMPIT","IGF1","IGF1 + DMPIT"],"range":["white","white","black","black"]}},
        "stroke":{"field":"s","type":"nominal","scale":{"domain":["Control","DMPIT","IGF1","IGF1 + DMPIT"],"range":["black","black","black","black"]}}}}
     ],
     "resolve":{"scale":{"shape":"independent","fill":"independent","stroke":"independent"}}}
   ],"spacing":22,"align":"none","resolve":{"scale":{"x":"independent","y":"independent","shape":"independent","fill":"independent","stroke":"independent"},"legend":{"shape":"independent","fill":"independent","stroke":"independent"}}}
  ],"spacing":29,"align":"none","resolve":{"scale":{"x":"independent","y":"independent","shape":"independent","fill":"independent","stroke":"independent"},"legend":{"shape":"independent","fill":"independent","stroke":"independent"}}}
 ],"spacing":46,"align":"none","resolve":{"scale":{"x":"independent","y":"independent","shape":"independent","fill":"independent","stroke":"independent"},"legend":{"shape":"independent","fill":"independent","stroke":"independent"}}}
 ],"spacing":55,"align":"none","resolve":{"scale":{"x":"independent","y":"independent","shape":"independent","fill":"independent","stroke":"independent"},"legend":{"shape":"independent","fill":"independent","stroke":"independent"}}}
],"spacing":-26,"align":"none","resolve":{"scale":{"x":"independent","y":"independent","shape":"independent","fill":"independent","stroke":"independent"},"legend":{"shape":"independent","fill":"independent","stroke":"independent"}}},
{"vconcat":[
 {"width":176,"height":161,"title":{"text":" ","fontSize":12,"offset":0},
  "layer":[
   {"data":{"name":"bA"},
    "encoding":{"x":{"field":"g","type":"nominal","sort":null,"scale":{"paddingInner":0.32,"paddingOuter":0.16},"axis":{"title":null,"labelAngle":0,"labelFontSize":15,"domainWidth":2,"tickWidth":2,"tickSize":5,"labelPadding":3,"labelLineHeight":15,"labelExpr":"datum.value == 'EGF+Cetux' ? ['EGF','+','Cetux'] : datum.value"}},
     "y":{"field":"m","type":"quantitative","scale":{"domain":[0,150],"nice":false},"axis":{"title":"BRET (mBU)","titleFontSize":16,"values":[0,25,50,75,100,125,150],"labelExpr":"datum.value % 50 == 0 ? datum.label : ''","labelFontWeight":"bold","labelFontSize":12,"domainWidth":2,"tickWidth":2,"tickSize":5,"labelPadding":2,"titlePadding":4}}},
    "layer":[
     {"mark":{"type":"bar","stroke":"black","strokeWidth":2},"encoding":{"fill":{"field":"g","type":"nominal","sort":null,"scale":{"range":["white","black","#d4d4d4","#5e5e5e"]},"legend":null}}},
     {"mark":{"type":"rule","color":"black","strokeWidth":2},"encoding":{"y2":{"field":"e"}}},
     {"mark":{"type":"tick","color":"black","thickness":2,"size":14},"encoding":{"y":{"field":"e","type":"quantitative"}}}
    ]},
   {"data":{"name":"kA"},"mark":{"type":"rule","color":"black","strokeWidth":1.5},
    "encoding":{"x":{"field":"x","type":"quantitative","scale":{"domain":[0,4],"nice":false,"zero":false},"axis":null},"x2":{"field":"x2"},"y":{"field":"y","type":"quantitative"},"y2":{"field":"y2"}}},
   {"data":{"name":"nA"},"mark":{"type":"text","fontSize":14,"baseline":"middle","color":"black"},
    "encoding":{"x":{"field":"x","type":"quantitative","scale":{"domain":[0,4],"nice":false,"zero":false},"axis":null},"y":{"field":"y","type":"quantitative"},"text":{"field":"txt","type":"nominal"}}}
  ],"resolve":{"scale":{"x":"independent"}}},
 {"vconcat":[
  {"width":176,"height":167,
   "layer":[
    {"data":{"name":"bB"},
     "encoding":{"x":{"field":"g","type":"nominal","sort":null,"scale":{"paddingInner":0.32,"paddingOuter":0.16},"axis":{"title":null,"labelAngle":0,"labelFontSize":15,"domainWidth":2,"tickWidth":2,"tickSize":5,"labelPadding":3}},
      "y":{"field":"m","type":"quantitative","scale":{"domain":[0,150],"nice":false},"axis":{"title":"BRET (mBU)","titleFontSize":16,"values":[0,25,50,75,100,125,150],"labelExpr":"datum.value % 50 == 0 ? datum.label : ''","labelFontWeight":"bold","labelFontSize":12,"domainWidth":2,"tickWidth":2,"tickSize":5,"labelPadding":2,"titlePadding":4}}},
     "layer":[
      {"mark":{"type":"bar","stroke":"black","strokeWidth":2},"encoding":{"fill":{"field":"g","type":"nominal","sort":null,"scale":{"range":["white","black","#d4d4d4","#5e5e5e"]},"legend":null}}},
      {"mark":{"type":"rule","color":"black","strokeWidth":2},"encoding":{"y2":{"field":"e"}}},
      {"mark":{"type":"tick","color":"black","thickness":2,"size":14},"encoding":{"y":{"field":"e","type":"quantitative"}}}
     ]},
    {"data":{"name":"kB"},"mark":{"type":"rule","color":"black","strokeWidth":1.5},
     "encoding":{"x":{"field":"x","type":"quantitative","scale":{"domain":[0,4],"nice":false,"zero":false},"axis":null},"x2":{"field":"x2"},"y":{"field":"y","type":"quantitative"},"y2":{"field":"y2"}}},
    {"data":{"name":"nB"},"mark":{"type":"text","fontSize":14,"baseline":"middle","color":"black"},
     "encoding":{"x":{"field":"x","type":"quantitative","scale":{"domain":[0,4],"nice":false,"zero":false},"axis":null},"y":{"field":"y","type":"quantitative"},"text":{"field":"txt","type":"nominal"}}}
   ],"resolve":{"scale":{"x":"independent"}}},
  {"vconcat":[
   {"width":172,"height":167,
    "layer":[
     {"data":{"name":"bC"},
      "encoding":{"x":{"field":"g","type":"nominal","sort":null,"scale":{"paddingInner":0.32,"paddingOuter":0.16},"axis":{"title":null,"labelAngle":0,"labelFontSize":15,"domainWidth":2,"tickWidth":2,"tickSize":5,"labelPadding":3}},
       "y":{"field":"m","type":"quantitative","scale":{"domain":[0,175],"nice":false},"axis":{"title":"BRET (mBU)","titleFontSize":16,"values":[0,25,50,75,100,125,150,175],"labelOverlap":false,"labelFontWeight":"bold","labelFontSize":12,"domainWidth":2,"tickWidth":2,"tickSize":5,"labelPadding":2,"titlePadding":4}}},
      "layer":[
       {"mark":{"type":"bar","stroke":"black","strokeWidth":2},"encoding":{"fill":{"field":"g","type":"nominal","sort":null,"scale":{"range":["white","black","#d4d4d4","#5e5e5e"]},"legend":null}}},
       {"mark":{"type":"rule","color":"black","strokeWidth":2},"encoding":{"y2":{"field":"e"}}},
       {"mark":{"type":"tick","color":"black","thickness":2,"size":14},"encoding":{"y":{"field":"e","type":"quantitative"}}}
      ]},
     {"data":{"name":"kC"},"mark":{"type":"rule","color":"black","strokeWidth":1.5},
      "encoding":{"x":{"field":"x","type":"quantitative","scale":{"domain":[0,4],"nice":false,"zero":false},"axis":null},"x2":{"field":"x2"},"y":{"field":"y","type":"quantitative"},"y2":{"field":"y2"}}},
     {"data":{"name":"nC"},"mark":{"type":"text","fontSize":14,"baseline":"middle","color":"black"},
      "encoding":{"x":{"field":"x","type":"quantitative","scale":{"domain":[0,4],"nice":false,"zero":false},"axis":null},"y":{"field":"y","type":"quantitative"},"text":{"field":"txt","type":"nominal"}}}
    ],"resolve":{"scale":{"x":"independent"}}},
   {"vconcat":[
    {"width":176,"height":167,
     "layer":[
      {"data":{"name":"bD"},
       "encoding":{"x":{"field":"g","type":"nominal","sort":null,"scale":{"paddingInner":0.32,"paddingOuter":0.16},"axis":{"title":null,"labelAngle":0,"labelFontSize":14,"domainWidth":2,"tickWidth":2,"tickSize":5,"labelPadding":3}},
        "y":{"field":"m","type":"quantitative","scale":{"domain":[0,150],"nice":false},"axis":{"title":"BRET (mBU)","titleFontSize":16,"values":[0,25,50,75,100,125,150],"labelExpr":"datum.value % 50 == 0 ? datum.label : ''","labelFontWeight":"bold","labelFontSize":12,"domainWidth":2,"tickWidth":2,"tickSize":5,"labelPadding":2,"titlePadding":4}}},
       "layer":[
        {"mark":{"type":"bar","stroke":"black","strokeWidth":2},"encoding":{"fill":{"field":"g","type":"nominal","sort":null,"scale":{"range":["white","black","#d4d4d4","#5e5e5e"]},"legend":null}}},
        {"mark":{"type":"rule","color":"black","strokeWidth":2},"encoding":{"y2":{"field":"e"}}},
        {"mark":{"type":"tick","color":"black","thickness":2,"size":14},"encoding":{"y":{"field":"e","type":"quantitative"}}}
       ]},
      {"data":{"name":"kD"},"mark":{"type":"rule","color":"black","strokeWidth":1.5},
       "encoding":{"x":{"field":"x","type":"quantitative","scale":{"domain":[0,4],"nice":false,"zero":false},"axis":null},"x2":{"field":"x2"},"y":{"field":"y","type":"quantitative"},"y2":{"field":"y2"}}},
      {"data":{"name":"nD"},"mark":{"type":"text","fontSize":14,"baseline":"middle","color":"black"},
       "encoding":{"x":{"field":"x","type":"quantitative","scale":{"domain":[0,4],"nice":false,"zero":false},"axis":null},"y":{"field":"y","type":"quantitative"},"text":{"field":"txt","type":"nominal"}}}
     ],"resolve":{"scale":{"x":"independent"}}},
    {"width":175,"height":166,
     "layer":[
      {"data":{"name":"bE"},
       "encoding":{"x":{"field":"g","type":"nominal","sort":null,"scale":{"paddingInner":0.32,"paddingOuter":0.16},"axis":{"title":null,"labelAngle":0,"labelFontSize":13.5,"domainWidth":2,"tickWidth":2,"tickSize":5,"labelPadding":3,"labelLineHeight":15,"labelExpr":"datum.value == 'DMPIT+IGF1' ? ['DMPIT','+ IGF1'] : datum.value"}},
        "y":{"field":"m","type":"quantitative","scale":{"domain":[0,150],"nice":false},"axis":{"title":"BRET (mBU)","titleFontSize":16,"values":[0,25,50,75,100,125,150],"labelExpr":"datum.value % 50 == 0 ? datum.label : ''","labelFontWeight":"bold","labelFontSize":12,"domainWidth":2,"tickWidth":2,"tickSize":5,"labelPadding":2,"titlePadding":4}}},
       "layer":[
        {"mark":{"type":"bar","stroke":"black","strokeWidth":2},"encoding":{"fill":{"field":"g","type":"nominal","sort":null,"scale":{"range":["white","black","#d4d4d4","#5e5e5e"]},"legend":null}}},
        {"mark":{"type":"rule","color":"black","strokeWidth":2},"encoding":{"y2":{"field":"e"}}},
        {"mark":{"type":"tick","color":"black","thickness":2,"size":14},"encoding":{"y":{"field":"e","type":"quantitative"}}}
       ]},
      {"data":{"name":"kE"},"mark":{"type":"rule","color":"black","strokeWidth":1.5},
       "encoding":{"x":{"field":"x","type":"quantitative","scale":{"domain":[0,4],"nice":false,"zero":false},"axis":null},"x2":{"field":"x2"},"y":{"field":"y","type":"quantitative"},"y2":{"field":"y2"}}},
      {"data":{"name":"nE"},"mark":{"type":"text","fontSize":14,"baseline":"middle","color":"black"},
       "encoding":{"x":{"field":"x","type":"quantitative","scale":{"domain":[0,4],"nice":false,"zero":false},"axis":null},"y":{"field":"y","type":"quantitative"},"text":{"field":"txt","type":"nominal"}}}
     ],"resolve":{"scale":{"x":"independent"}}}
   ],"spacing":75,"align":"none","resolve":{"scale":{"x":"independent","y":"independent","fill":"independent"}}}
  ],"spacing":53,"align":"none","resolve":{"scale":{"x":"independent","y":"independent","fill":"independent"}}}
 ],"spacing":73,"align":"none","resolve":{"scale":{"x":"independent","y":"independent","fill":"independent"}}}
],"spacing":59,"align":"none","resolve":{"scale":{"x":"independent","y":"independent","fill":"independent"}}}
],
"spacing":33,
"align":"none",
"resolve":{"scale":{"x":"independent","y":"independent","shape":"independent","fill":"independent","stroke":"independent"},"legend":{"shape":"independent","fill":"independent","stroke":"independent"}},
"config":{
 "font":"Liberation Sans",
 "view":{"stroke":null},
 "axis":{"labelFont":"Liberation Sans","titleFont":"Liberation Sans","labelColor":"black","titleColor":"black","domainColor":"black","tickColor":"black","grid":false,"titleFontWeight":"normal","labelFontSize":15,"titleFontSize":16},
 "legend":{"labelFont":"Liberation Sans","labelColor":"black","labelFontSize":14},
 "title":{"font":"Liberation Sans","color":"black"},
 "text":{"font":"Liberation Sans"}
}
}
